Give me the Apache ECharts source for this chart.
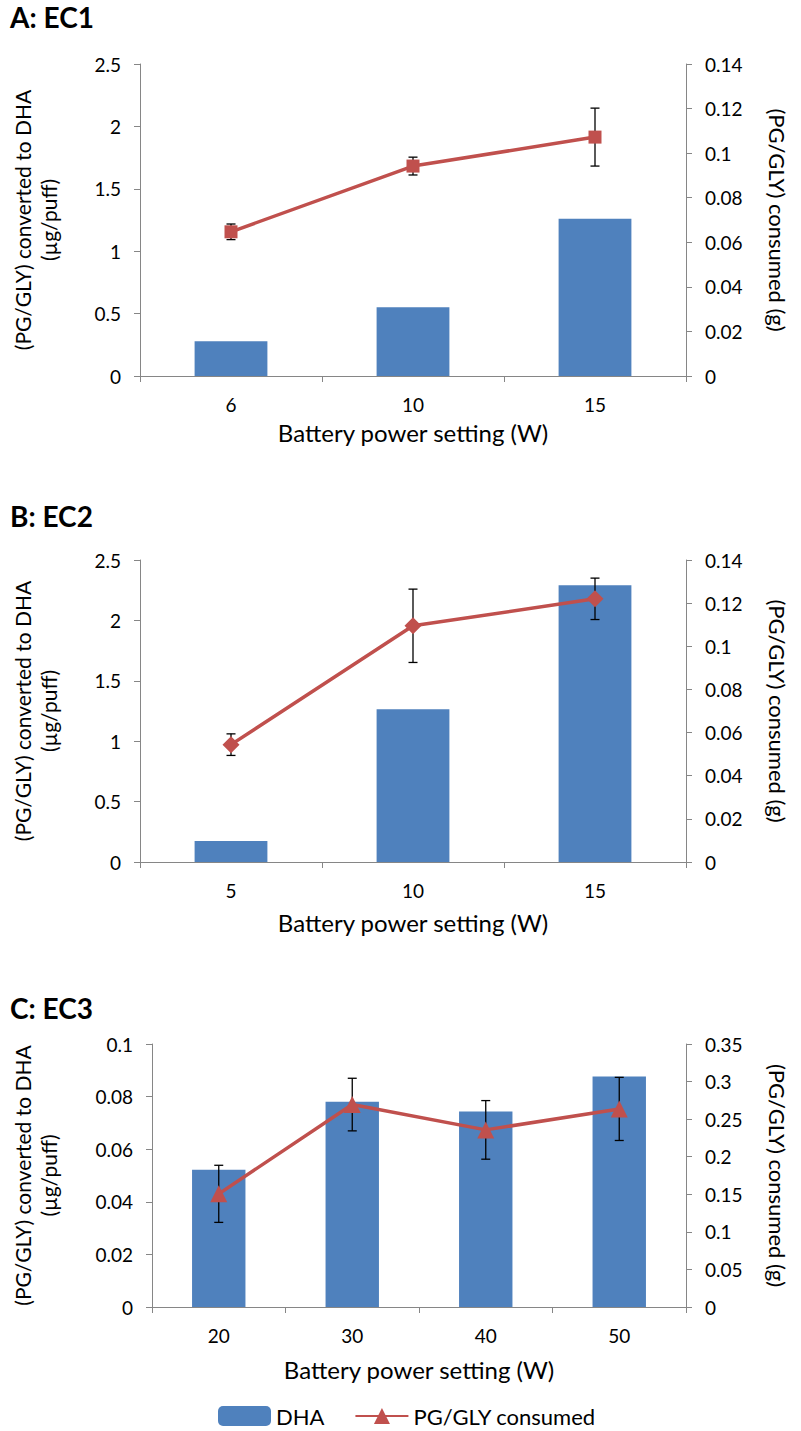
<!DOCTYPE html>
<html>
<head>
<meta charset="utf-8">
<script src="https://cdn.jsdelivr.net/npm/echarts@6/dist/echarts.min.js"></script>
<style>
html,body{margin:0;padding:0;background:#fff;}
#chart{width:801px;height:1431px;}
</style>
</head>
<body>
<div id="chart"></div>
<script>
// ---------- data ----------
const catsA = ['6', '10', '15'];
const dhaA = [0.278, 0.55, 1.26];
const pgA = [0.0647, 0.0942, 0.1072];
const pgErrA = [0.0035, 0.004, 0.013];

const catsB = ['5', '10', '15'];
const dhaB = [0.174, 1.265, 2.29];
const pgB = [0.0544, 0.1095, 0.122];
const pgErrB = [0.005, 0.017, 0.0096];

const catsC = ['20', '30', '40', '50'];
const dhaC = [0.0522, 0.078, 0.0743, 0.0876];
const pgC = [0.1506, 0.2694, 0.2357, 0.2636];
const pgErrC = [0.038, 0.035, 0.039, 0.042];

const panelTitles = ['A: EC1', 'B: EC2', 'C: EC3'];
const xTitle = 'Battery power setting (W)';
const leftTitle = '(PG/GLY) converted to DHA\n(µg/puff)';
const rightTitle = '(PG/GLY) consumed (g)';
const leftRanges = [[0, 2.5, 0.5], [0, 2.5, 0.5], [0, 0.1, 0.02]];
const rightRanges = [[0, 0.14, 0.02], [0, 0.14, 0.02], [0, 0.35, 0.05]];

// ---------- style ----------
const FONT = 'Lato, "Open Sans", sans-serif';
const BAR = '#4F81BD';
const LINE = '#C0504D';
const AX = '#868686';

const panels = [
  {cats: catsA, dha: dhaA, pg: pgA, err: pgErrA, symbol: 'rect', size: 13,
   grid: {left: 140, right: 115, top: 64, height: 312}, leftGap: 79, xGap: 44},
  {cats: catsB, dha: dhaB, pg: pgB, err: pgErrB, symbol: 'diamond', size: 17,
   grid: {left: 140, right: 115, top: 560, height: 302}, leftGap: 79, xGap: 48},
  {cats: catsC, dha: dhaC, pg: pgC, err: pgErrC, symbol: 'triangle', size: 17,
   grid: {left: 152, right: 115, top: 1044, height: 263}, leftGap: 91, xGap: 50}
];
const titleTops = [3, 502, 994];

const grid = [], xAxis = [], yAxis = [], series = [], title = [];
panels.forEach((p, i) => {
  grid.push(Object.assign({containLabel: false}, p.grid));
  title.push({text: panelTitles[i], left: 10, top: titleTops[i], padding: 0,
    textStyle: {fontFamily: FONT, fontSize: 28, fontWeight: 'bold', color: '#000'}});
  xAxis.push({
    type: 'category', gridIndex: i, data: p.cats, boundaryGap: true,
    name: xTitle, nameLocation: 'middle', nameGap: p.xGap,
    nameTextStyle: {fontFamily: FONT, fontSize: 24, color: '#000'},
    axisLine: {lineStyle: {color: AX, width: 1}},
    axisTick: {show: true, length: 6, lineStyle: {color: AX}},
    axisLabel: {fontFamily: FONT, fontSize: 19, color: '#000', margin: 19},
    splitLine: {show: false}
  });
  const lr = leftRanges[i], rr = rightRanges[i];
  yAxis.push({
    type: 'value', gridIndex: i, position: 'left', min: lr[0], max: lr[1], interval: lr[2],
    name: leftTitle, nameLocation: 'middle', nameGap: p.leftGap,
    nameTextStyle: {fontFamily: FONT, fontSize: 21, color: '#000', lineHeight: 26},
    axisLine: {show: true, lineStyle: {color: AX, width: 1}},
    axisTick: {show: true, length: 6, lineStyle: {color: AX}},
    axisLabel: {fontFamily: FONT, fontSize: 19, color: '#000', margin: 19},
    splitLine: {show: false}
  });
  yAxis.push({
    type: 'value', gridIndex: i, position: 'right', min: rr[0], max: rr[1], interval: rr[2],
    name: rightTitle, nameLocation: 'middle', nameGap: 80, nameRotate: -90,
    nameTextStyle: {fontFamily: FONT, fontSize: 22, color: '#000'},
    axisLine: {show: true, lineStyle: {color: AX, width: 1}},
    axisTick: {show: true, length: 6, lineStyle: {color: AX}},
    axisLabel: {fontFamily: FONT, fontSize: 19, color: '#000', margin: 19},
    splitLine: {show: false}
  });
});

// line series: panel C first so the legend takes its triangle marker
[2, 0, 1].forEach(i => {
  const p = panels[i];
  series.push({
    name: 'PG/GLY consumed', type: 'line', xAxisIndex: i, yAxisIndex: i * 2 + 1,
    data: p.pg, symbol: p.symbol, symbolSize: p.size, z: 5,
    lineStyle: {color: LINE, width: 3.5}, itemStyle: {color: LINE},
    emphasis: {disabled: true}
  });
});
panels.forEach((p, i) => {
  series.push({
    name: 'DHA', type: 'bar', xAxisIndex: i, yAxisIndex: i * 2,
    data: p.dha, barWidth: '40%', itemStyle: {color: BAR}, z: 2,
    emphasis: {disabled: true}
  });
  series.push({
    name: 'error', type: 'custom', xAxisIndex: i, yAxisIndex: i * 2 + 1, z: 4,
    data: p.pg.map((v, j) => [j, v - p.err[j], v + p.err[j]]),
    encode: {x: 0, y: [1, 2]},
    renderItem: function (params, api) {
      const x = api.value(0);
      const lo = api.coord([x, api.value(1)]);
      const hi = api.coord([x, api.value(2)]);
      const w = 4.5;
      const st = {stroke: '#000', lineWidth: 1.3};
      return {type: 'group', children: [
        {type: 'line', shape: {x1: lo[0], y1: lo[1], x2: hi[0], y2: hi[1]}, style: st},
        {type: 'line', shape: {x1: lo[0] - w, y1: lo[1], x2: lo[0] + w, y2: lo[1]}, style: st},
        {type: 'line', shape: {x1: hi[0] - w, y1: hi[1], x2: hi[0] + w, y2: hi[1]}, style: st}
      ]};
    }
  });
});

const chart = echarts.init(document.getElementById('chart'), null, {renderer: 'svg'});
chart.setOption({
  animation: false,
  backgroundColor: '#fff',
  title: title,
  legend: {
    data: ['DHA', 'PG/GLY consumed'],
    left: 213, top: 1400, itemWidth: 53, itemHeight: 20, itemGap: 30,
    textStyle: {fontFamily: FONT, fontSize: 22, color: '#000'}
  },
  grid: grid, xAxis: xAxis, yAxis: yAxis, series: series
});
</script>
</body>
</html>
